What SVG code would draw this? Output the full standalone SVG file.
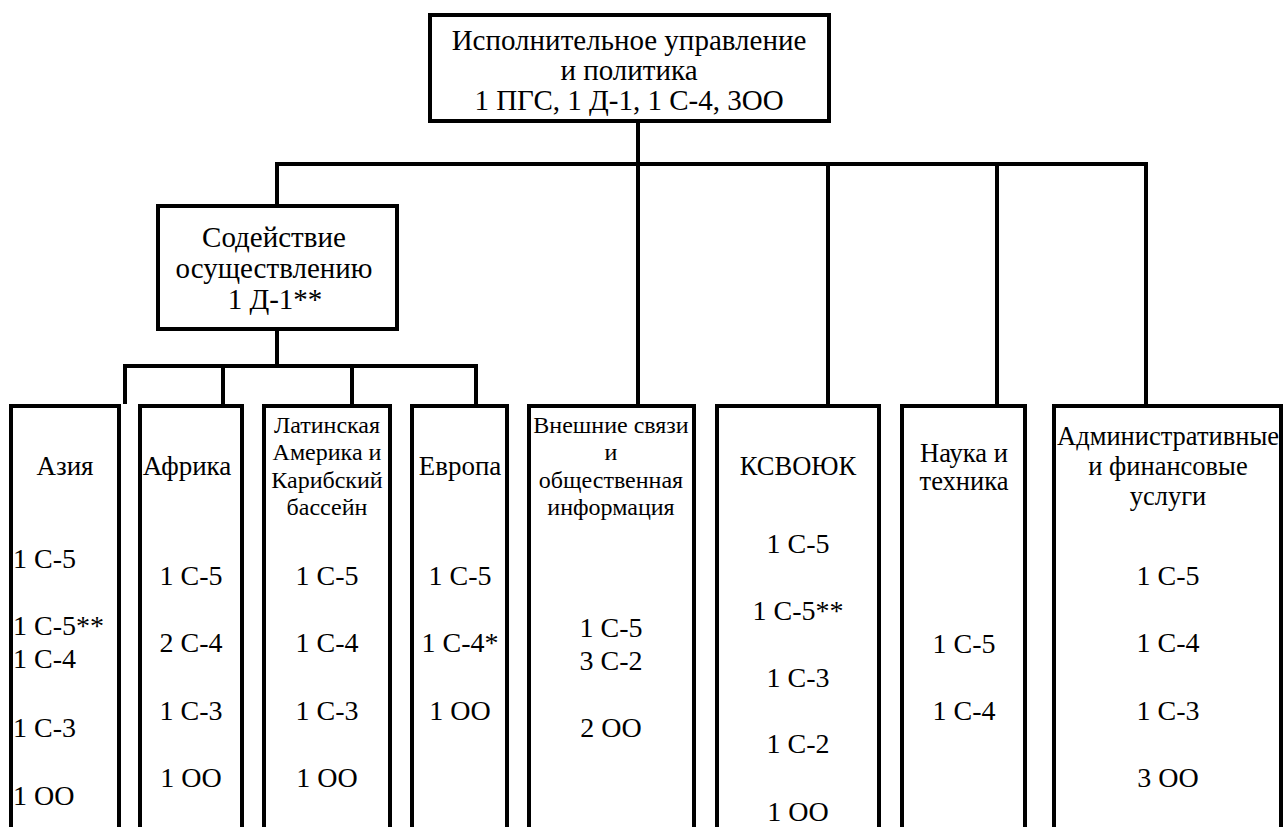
<svg xmlns="http://www.w3.org/2000/svg" width="1283" height="827" viewBox="0 0 1283 827">
<style>
.box{fill:#fff;stroke:#000;stroke-width:4;stroke-linejoin:miter}
.open{fill:none;stroke:#000;stroke-width:4;stroke-linejoin:miter}
.ln{fill:none;stroke:#000;stroke-width:4;stroke-linejoin:miter}
.t1{font-size:29px;text-anchor:middle;fill:#000}
.h{font-size:27px;text-anchor:middle;fill:#000}
.ha{font-size:26.5px;text-anchor:middle;fill:#000}
.hs{font-size:24px;text-anchor:middle;fill:#000}
.v{font-size:28px;text-anchor:middle;fill:#000}
.vl{font-size:28px;fill:#000}
</style>
<rect width="1283" height="827" fill="#fff"/>
<g id="connectors">
<path class="ln" d="M277 206 V164 H1146 V406"/>
<path class="ln" d="M638 121 V406"/>
<path class="ln" d="M828 164 V406"/>
<path class="ln" d="M997 164 V406"/>
<path class="ln" d="M277 329 V366"/>
<path class="ln" d="M125 404 V366 H476 V406"/>
<path class="ln" d="M223 366 V406"/>
<path class="ln" d="M352 366 V406"/>
</g>
<g font-family="Liberation Serif, serif">
<g id="n-exec">
<rect class="box" x="430" y="15" width="399" height="106"/>
<text class="t1" x="629" y="50">Исполнительное управление</text>
<text class="t1" x="629" y="80">и политика</text>
<text class="t1" x="629" y="110">1 ПГС, 1 Д-1, 1 С-4, 3ОО</text>
</g>
<g id="n-impl">
<rect class="box" x="158" y="206" width="239" height="123"/>
<text class="t1" x="274" y="247">Содействие</text>
<text class="t1" x="274" y="278">осуществлению</text>
<text class="t1" x="275" y="309">1 Д-1**</text>
</g>
<g id="n-asia">
<path class="open" d="M11 830 V406 H119 V830"/>
<text class="h" x="65" y="475">Азия</text>
<text class="vl" x="13" y="568">1 С-5</text>
<text class="vl" x="13" y="635">1 С-5**</text>
<text class="vl" x="13" y="668">1 С-4</text>
<text class="vl" x="13" y="737">1 С-3</text>
<text class="vl" x="13" y="805">1 ОО</text>
</g>
<g id="n-africa">
<path class="open" d="M140 830 V406 H242 V830"/>
<text class="h" x="187" y="475">Африка</text>
<text class="v" x="191" y="585">1 С-5</text>
<text class="v" x="191" y="652">2 С-4</text>
<text class="v" x="191" y="720">1 С-3</text>
<text class="v" x="191" y="787">1 ОО</text>
</g>
<g id="n-latam">
<path class="open" d="M264 830 V406 H390 V830"/>
<text class="hs" x="327" y="433">Латинская</text>
<text class="hs" x="327" y="460">Америка и</text>
<text class="hs" x="327" y="488">Карибский</text>
<text class="hs" x="327" y="515">бассейн</text>
<text class="v" x="327" y="585">1 С-5</text>
<text class="v" x="327" y="652">1 С-4</text>
<text class="v" x="327" y="720">1 С-3</text>
<text class="v" x="327" y="787">1 ОО</text>
</g>
<g id="n-europe">
<path class="open" d="M412 830 V406 H507 V830"/>
<text class="h" x="460" y="475">Европа</text>
<text class="v" x="460" y="585">1 С-5</text>
<text class="v" x="460" y="652">1 С-4*</text>
<text class="v" x="460" y="720">1 ОО</text>
</g>
<g id="n-ext">
<path class="open" d="M529 830 V406 H694 V830"/>
<text class="hs" x="611" y="433">Внешние связи</text>
<text class="hs" x="611" y="460">и</text>
<text class="hs" x="611" y="488">общественная</text>
<text class="hs" x="611" y="515">информация</text>
<text class="v" x="611" y="637">1 С-5</text>
<text class="v" x="611" y="670">3 С-2</text>
<text class="v" x="611" y="737">2 ОО</text>
</g>
<g id="n-ksvojuk">
<path class="open" d="M717 830 V406 H879 V830"/>
<text class="ha" x="798" y="475">КСВОЮК</text>
<text class="v" x="798" y="553">1 С-5</text>
<text class="v" x="798" y="620">1 С-5**</text>
<text class="v" x="798" y="687">1 С-3</text>
<text class="v" x="798" y="753">1 С-2</text>
<text class="v" x="798" y="821">1 ОО</text>
</g>
<g id="n-science">
<path class="open" d="M902 830 V406 H1025 V830"/>
<text class="ha" x="964" y="462">Наука и</text>
<text class="ha" x="964" y="490">техника</text>
<text class="v" x="964" y="653">1 С-5</text>
<text class="v" x="964" y="720">1 С-4</text>
</g>
<g id="n-admin">
<path class="open" d="M1054 830 V406 H1281 V830"/>
<text class="ha" x="1168" y="445">Административные</text>
<text class="ha" x="1168" y="475">и финансовые</text>
<text class="ha" x="1168" y="505">услуги</text>
<text class="v" x="1168" y="585">1 С-5</text>
<text class="v" x="1168" y="652">1 С-4</text>
<text class="v" x="1168" y="720">1 С-3</text>
<text class="v" x="1168" y="787">3 ОО</text>
</g>
</g>
</svg>
